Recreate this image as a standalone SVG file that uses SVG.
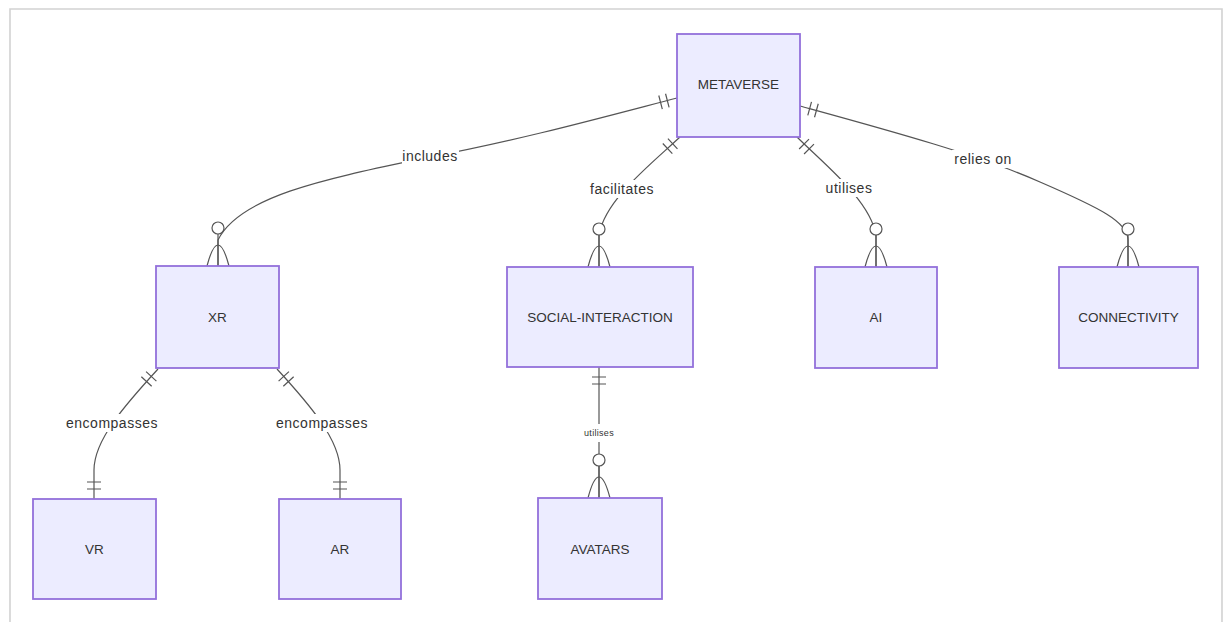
<svg xmlns="http://www.w3.org/2000/svg" xmlns:xlink="http://www.w3.org/1999/xlink" width="1228" height="622" viewBox="0 0 1228 622">
<style>
.frame{stroke:#d2d2d2;stroke-width:1.6;fill:none}
.node rect{fill:#ECECFF;stroke:#9370DB;stroke-width:1.8}
.node text{font-family:"Liberation Sans",Arial,sans-serif;font-size:13.5px;fill:#333;text-anchor:middle;dominant-baseline:central}
.edge{fill:none;stroke:#555;stroke-width:1.2}
.mk{fill:none;stroke:#555;stroke-width:1.2}
.mk circle{fill:#fff}
.lbl rect{fill:#fff}
.lbl text{font-family:"Liberation Sans",Arial,sans-serif;font-size:14px;letter-spacing:0.5px;fill:#333;text-anchor:middle;dominant-baseline:central}
.lbl text.small{font-size:9px;letter-spacing:0.3px}
</style>
<defs>
<g id="zeroMany" class="mk">
<path d="M0,-32 L0,0"/>
<path d="M-11,0 Q0,-42 11,0"/>
<circle cx="0" cy="-38" r="6"/>
</g>
<g id="oneOne" class="mk">
<path d="M-7,-10 L7,-10 M-7,-17 L7,-17"/>
</g>
</defs>
<rect width="1228" height="622" fill="#fff"/>
<path class="frame" d="M10,622 L10,9 L1222,9 L1222,622"/>

<g id="connectors">
<path class="edge" d="M677,98 C600,118 520,140 430,157 C330,178 240,195 218,240 L218,266"/>
<path class="edge" d="M680,137 C650,165 605,200 599,235 L599,267"/>
<path class="edge" d="M797,137 C825,165 870,200 876,235 L876,267"/>
<path class="edge" d="M800,106 C880,128 980,155 1040,182 C1100,208 1128,222 1128,240 L1128,267"/>
<path class="edge" d="M158,369 C125,405 94,440 94,470 L94,499"/>
<path class="edge" d="M277,369 C310,405 340,440 340,470 L340,499"/>
<path class="edge" d="M599,367 L599,498"/>

<use xlink:href="#oneOne" transform="translate(677,98) rotate(-104.6)"/>
<use xlink:href="#oneOne" transform="translate(680,137) rotate(-133)"/>
<use xlink:href="#oneOne" transform="translate(797,137) rotate(135)"/>
<use xlink:href="#oneOne" transform="translate(800,106) rotate(105.4)"/>
<use xlink:href="#oneOne" transform="translate(158,369) rotate(-137.5)"/>
<use xlink:href="#oneOne" transform="translate(277,369) rotate(137.5)"/>
<use xlink:href="#oneOne" transform="translate(599,367) rotate(180)"/>
<use xlink:href="#oneOne" transform="translate(94,499)"/>
<use xlink:href="#oneOne" transform="translate(340,499)"/>

<use xlink:href="#zeroMany" transform="translate(218,266)"/>
<use xlink:href="#zeroMany" transform="translate(599,267)"/>
<use xlink:href="#zeroMany" transform="translate(876,267)"/>
<use xlink:href="#zeroMany" transform="translate(1128,267)"/>
<use xlink:href="#zeroMany" transform="translate(599,498)"/>

<g class="lbl">
<rect x="402" y="147" width="57" height="18"/><text x="430" y="156">includes</text>
<rect x="589" y="180" width="66" height="18"/><text x="622" y="189">facilitates</text>
<rect x="826" y="179" width="46" height="18"/><text x="849" y="188">utilises</text>
<rect x="952" y="150" width="62" height="18"/><text x="983" y="159">relies on</text>
<rect x="66" y="414" width="92" height="18"/><text x="112" y="423">encompasses</text>
<rect x="276" y="414" width="92" height="18"/><text x="322" y="423">encompasses</text>
<rect x="577" y="424" width="44" height="18"/><text class="small" x="599" y="433">utilises</text>
</g>
</g>

<g id="METAVERSE" class="node"><rect x="677" y="34" width="123" height="103"/><text x="738.5" y="84">METAVERSE</text></g>
<g id="XR" class="node"><rect x="156" y="266" width="123" height="102"/><text x="217.5" y="317">XR</text></g>
<g id="SOCIAL-INTERACTION" class="node"><rect x="507" y="267" width="186" height="100"/><text x="600" y="317">SOCIAL-INTERACTION</text></g>
<g id="AI" class="node"><rect x="815" y="267" width="122" height="101"/><text x="876" y="317">AI</text></g>
<g id="CONNECTIVITY" class="node"><rect x="1059" y="267" width="139" height="101"/><text x="1128.5" y="317">CONNECTIVITY</text></g>
<g id="VR" class="node"><rect x="33" y="499" width="123" height="100"/><text x="94.5" y="549">VR</text></g>
<g id="AR" class="node"><rect x="279" y="499" width="122" height="100"/><text x="340" y="549">AR</text></g>
<g id="AVATARS" class="node"><rect x="538" y="498" width="124" height="101"/><text x="600" y="549">AVATARS</text></g>
</svg>
